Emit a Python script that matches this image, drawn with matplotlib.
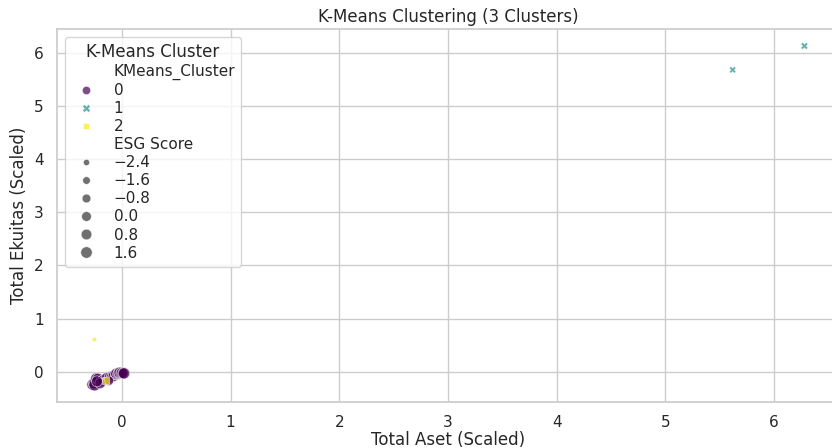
import numpy as np
import pandas as pd
import matplotlib
matplotlib.use("Agg")
import matplotlib.pyplot as plt
import seaborn as sns

# scaled values
c0_aset = [-0.27, -0.26, -0.25, -0.24, -0.22, -0.20, -0.19, -0.17, -0.15, -0.14,
           -0.12, -0.11, -0.10, -0.09, -0.08, -0.07, -0.06, -0.05, -0.05, -0.04,
           -0.03, -0.02, -0.02, -0.01, 0.00, 0.01, 0.02, -0.12, -0.20, -0.23]
c0_ekuitas = [-0.24, -0.22, -0.25, -0.12, -0.13, -0.20, -0.18, -0.16, -0.14, -0.12,
              -0.13, -0.10, -0.11, -0.09, -0.08, -0.07, -0.06, -0.05, -0.04, -0.05,
              -0.03, -0.04, -0.02, -0.03, -0.02, -0.03, -0.03, -0.17, -0.22, -0.18]
c0_esg = [1.6, 0.8, 1.9, 0.4, 1.0, -0.5, 0.9, 1.2, -0.8, 1.4,
          0.6, 1.1, 0.2, 1.3, 0.7, 1.5, 0.0, 1.0, 1.7, 0.3,
          1.2, 0.9, 1.6, 0.5, 1.1, 0.8, 1.4, -0.3, 0.6, 1.0]

c1_aset = [5.62, 6.28]
c1_ekuitas = [5.68, 6.13]
c1_esg = [-2.0, -1.8]

c2_aset = [-0.26, -0.15]
c2_ekuitas = [0.61, -0.17]
c2_esg = [-2.6, 0.5]

df = pd.DataFrame({
    "Total Aset": c0_aset + c1_aset + c2_aset,
    "Total Ekuitas": c0_ekuitas + c1_ekuitas + c2_ekuitas,
    "ESG Score": c0_esg + c1_esg + c2_esg,
    "KMeans_Cluster": [0] * len(c0_aset) + [1] * len(c1_aset) + [2] * len(c2_aset),
})

sns.set_theme(style="whitegrid")
fig = plt.figure(figsize=(8.32, 4.48), dpi=100)
ax = fig.add_axes([57 / 832, 46 / 448, 783 / 832, 373 / 448])

sns.scatterplot(data=df, x="Total Aset", y="Total Ekuitas",
                hue="KMeans_Cluster", style="KMeans_Cluster", size="ESG Score",
                palette="viridis", alpha=0.7, ax=ax)

ax.set_title("K-Means Clustering (3 Clusters)", fontsize=12, pad=5)
ax.set_xlabel("Total Aset (Scaled)", fontsize=12, labelpad=1)
ax.set_ylabel("Total Ekuitas (Scaled)", fontsize=12)
ax.tick_params(axis="x", pad=3)
ax.legend(title="K-Means Cluster", loc="upper left", fontsize=11,
          title_fontsize=12, labelspacing=0.2, borderaxespad=0.5)

fig.savefig("out.png", dpi=100)
